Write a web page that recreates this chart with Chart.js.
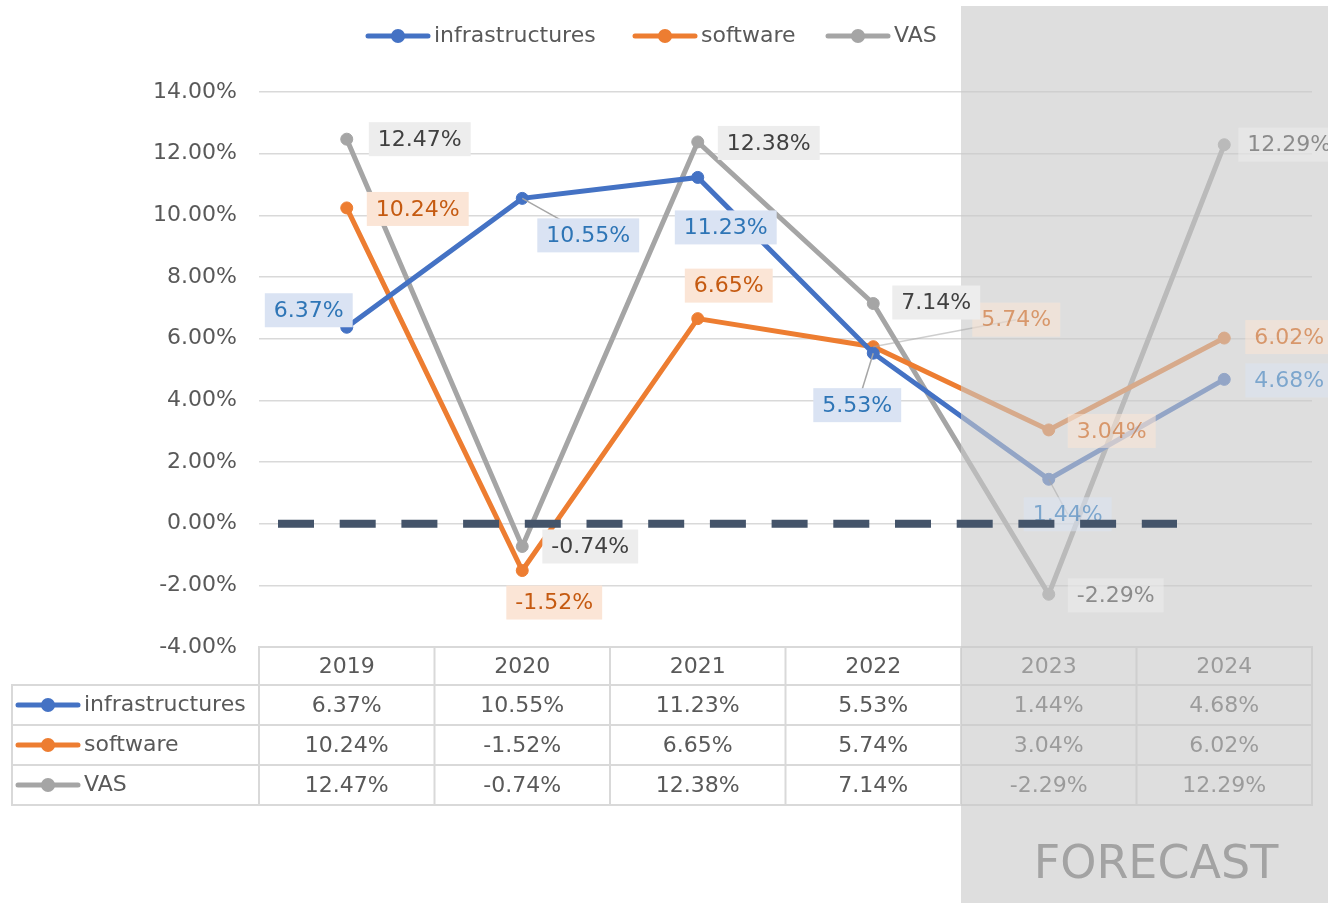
<!DOCTYPE html>
<html>
<head>
<meta charset="utf-8">
<script src="https://cdn.jsdelivr.net/npm/chart.js@4.4.1/dist/chart.umd.min.js"></script>
<style>
    html, body { margin: 0; padding: 0; background: #fff; }
    #wrap { width: 1328px; height: 903px; position: relative; }
</style>
</head>
<body>
<div id="wrap"><canvas id="growthChart"></canvas></div>
<script>
// Growth rates (%)
let years = ["2019", "2020", "2021", "2022", "2023", "2024"];
let infrastructures = [6.37, 10.55, 11.23, 5.53, 1.44, 4.68];
let software = [10.24, -1.52, 6.65, 5.74, 3.04, 6.02];
let vas = [12.47, -0.74, 12.38, 7.14, -2.29, 12.29];
let yTicks = [-4, -2, 0, 2, 4, 6, 8, 10, 12, 14];
let forecastStart = 4; // 2023 onwards is forecast

const FONT = '"DejaVu Sans", sans-serif';
const TEXT = "#595959";

// styling of each series + where its value labels sit relative to the point
let series = [
    { name: "infrastructures", values: infrastructures, color: "#4472C4",
      labelText: "#2E75B6", labelFill: "#DAE3F3",
      offsets: [[-38, -17], [66, 37], [28, 50], [-16, 52], [19, 35], [65, 1]],
      leaders: [0, 1, 0, 1, 1, 0] },
    { name: "software", values: software, color: "#ED7D31",
      labelText: "#C55A11", labelFill: "#FBE5D6",
      offsets: [[71, 1], [32, 32], [31, -33], [143, -27], [63, 1], [65, -1]],
      leaders: [0, 0, 0, 1, 0, 0] },
    { name: "VAS", values: vas, color: "#A5A5A5",
      labelText: "#404040", labelFill: "#EDEDED",
      offsets: [[73, 0], [68, 0], [71, 1], [63, -1], [67, 1], [65, 0]],
      leaders: [0, 0, 0, 0, 0, 0] }
];

function pct(v) { return v.toFixed(2) + "%"; }

// line + dot symbol used in the legend and table
function drawSymbol(ctx, x, y, color) {
    ctx.save();
    ctx.strokeStyle = color;
    ctx.lineWidth = 5;
    ctx.lineCap = "round";
    ctx.beginPath();
    ctx.moveTo(x, y);
    ctx.lineTo(x + 60, y);
    ctx.stroke();
    ctx.fillStyle = color;
    ctx.beginPath();
    ctx.arc(x + 30, y, 7, 0, Math.PI * 2);
    ctx.fill();
    ctx.restore();
}

let extras = {
    id: "extras",
    afterDatasetsDraw(chart) {
        let ctx = chart.ctx;
        let xs = chart.scales.x, ys = chart.scales.y;
        let area = chart.chartArea;
        let colW = xs.getPixelForValue(1) - xs.getPixelForValue(0);
        let forecastX = xs.getPixelForValue(forecastStart) - colW / 2;

        // data table under the plot
        let headTop = area.bottom, rowH = 40, headH = 38;
        ctx.save();
        ctx.strokeStyle = "#D9D9D9";
        ctx.lineWidth = 2;
        ctx.font = "22px " + FONT;
        ctx.fillStyle = TEXT;
        ctx.textAlign = "center";
        ctx.textBaseline = "middle";
        ctx.strokeRect(area.left, headTop, area.right - area.left, headH);
        years.forEach((yr, i) => {
            let cx = xs.getPixelForValue(i);
            ctx.beginPath();
            ctx.moveTo(cx + colW / 2, headTop);
            ctx.lineTo(cx + colW / 2, headTop + headH + rowH * 3);
            ctx.stroke();
            ctx.fillText(yr, cx, headTop + headH / 2 + 1);
        });
        series.forEach((s, r) => {
            let top = headTop + headH + r * rowH;
            ctx.strokeRect(12, top, area.right - 12, rowH);
            ctx.beginPath();
            ctx.moveTo(area.left, top);
            ctx.lineTo(area.left, top + rowH);
            ctx.stroke();
            drawSymbol(ctx, 18, top + rowH / 2, s.color);
            ctx.textAlign = "left";
            ctx.fillText(s.name, 84, top + rowH / 2);
            ctx.textAlign = "center";
            s.values.forEach((v, i) => {
                ctx.fillText(pct(v), xs.getPixelForValue(i), top + rowH / 2 + 1);
            });
        });
        ctx.restore();

        // forecast shading
        ctx.save();
        ctx.fillStyle = "rgba(200, 200, 200, 0.6)";
        ctx.fillRect(forecastX, 6, chart.width - forecastX, chart.height - 6);
        ctx.restore();

        // value labels
        series.forEach((s, di) => {
            let meta = chart.getDatasetMeta(di);
            meta.data.forEach((pt, i) => {
                let cx = pt.x + s.offsets[i][0];
                let cy = pt.y + s.offsets[i][1];
                let text = pct(s.values[i]);
                ctx.save();
                ctx.font = "22px " + FONT;
                let w = ctx.measureText(text).width + 18, h = 34;
                if (cx > forecastX) ctx.globalAlpha = 0.55;
                if (s.leaders[i]) {
                    ctx.strokeStyle = "#A6A6A6";
                    ctx.lineWidth = 1.5;
                    ctx.beginPath();
                    ctx.moveTo(pt.x, pt.y);
                    ctx.lineTo(cx, cy);
                    ctx.stroke();
                }
                ctx.fillStyle = s.labelFill;
                ctx.fillRect(cx - w / 2, cy - h / 2, w, h);
                ctx.fillStyle = s.labelText;
                ctx.textAlign = "center";
                ctx.textBaseline = "middle";
                ctx.fillText(text, cx, cy + 1);
                ctx.restore();
            });
        });

        // dashed zero line
        let y0 = ys.getPixelForValue(0);
        ctx.save();
        ctx.strokeStyle = "#44546A";
        ctx.lineWidth = 8;
        ctx.setLineDash([36, 25.7]);
        ctx.beginPath();
        ctx.moveTo(area.left + 19, y0);
        ctx.lineTo(1177, y0);
        ctx.stroke();
        ctx.restore();

        // forecast caption
        ctx.save();
        ctx.font = "46px " + FONT;
        ctx.fillStyle = "#A3A3A3";
        ctx.textAlign = "center";
        ctx.textBaseline = "middle";
        ctx.fillText("FORECAST", 1156, 866);
        ctx.restore();
    },
    afterDraw(chart) {
        // legend across the top
        let ctx = chart.ctx;
        let pos = [368, 635, 828];
        ctx.save();
        ctx.font = "22px " + FONT;
        ctx.fillStyle = TEXT;
        ctx.textBaseline = "middle";
        series.forEach((s, i) => {
            drawSymbol(ctx, pos[i], 36, s.color);
            ctx.fillText(s.name, pos[i] + 66, 36);
        });
        ctx.restore();
    }
};

new Chart(document.getElementById("growthChart"), {
    type: "line",
    data: {
        labels: years,
        datasets: series.map(s => ({
            label: s.name,
            data: s.values,
            borderColor: s.color,
            backgroundColor: s.color,
            pointBackgroundColor: s.color,
            pointBorderColor: s.color,
            borderWidth: 5,
            pointRadius: 6,
            pointBorderWidth: 1,
            tension: 0
        }))
    },
    options: {
        responsive: true,
        maintainAspectRatio: false,
        animation: false,
        layout: { padding: { top: 92, bottom: 256, left: 0, right: 16 } },
        plugins: {
            legend: { display: false },
            tooltip: { enabled: false }
        },
        scales: {
            x: {
                display: false,
                offset: true
            },
            y: {
                min: -4,
                max: 14,
                afterBuildTicks: scale => { scale.ticks = yTicks.map(v => ({ value: v })); },
                afterFit: scale => { scale.width = 259; },
                border: { display: false },
                grid: { color: "#D9D9D9", lineWidth: 1.5, drawTicks: false },
                ticks: {
                    padding: 22,
                    color: TEXT,
                    font: { family: FONT, size: 22 },
                    callback: v => pct(v)
                }
            }
        }
    },
    plugins: [extras]
});
</script>
</body>
</html>
